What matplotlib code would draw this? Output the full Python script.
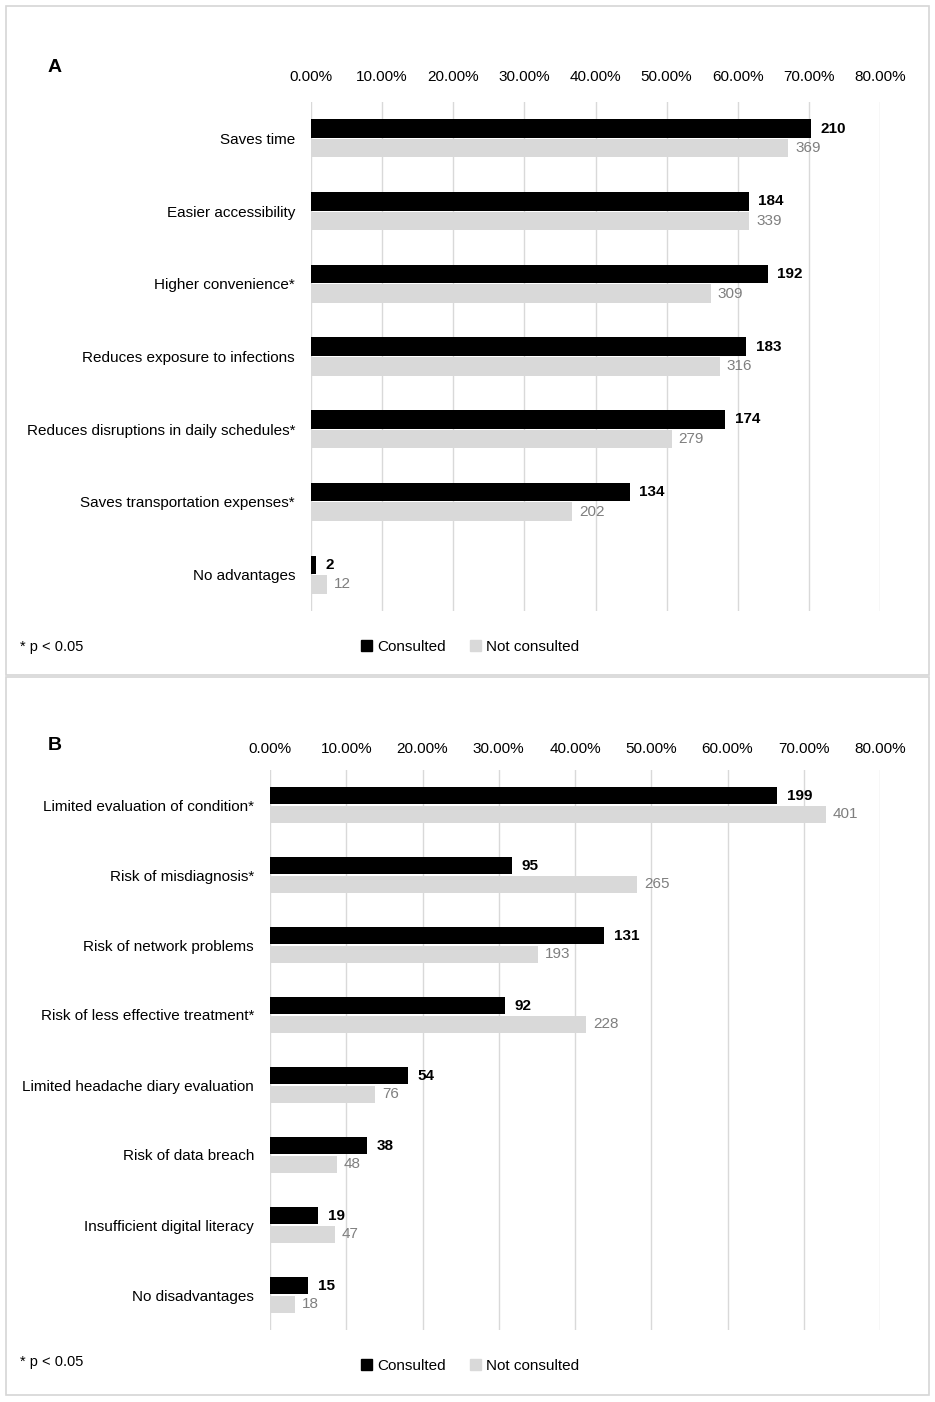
import matplotlib
matplotlib.use("Agg")
import matplotlib.pyplot as plt
from matplotlib.patches import Rectangle, Patch
from matplotlib.ticker import PercentFormatter
from matplotlib import font_manager

# ---------------- data ----------------
adv_categories = ["Saves time", "Easier accessibility", "Higher convenience*",
                  "Reduces exposure to infections", "Reduces disruptions in daily schedules*",
                  "Saves transportation expenses*", "No advantages"]
adv_consulted = [210, 184, 192, 183, 174, 134, 2]
adv_not_consulted = [369, 339, 309, 316, 279, 202, 12]

dis_categories = ["Limited evaluation of condition*", "Risk of misdiagnosis*",
                  "Risk of network problems", "Risk of less effective treatment*",
                  "Limited headache diary evaluation", "Risk of data breach",
                  "Insufficient digital literacy", "No disadvantages"]
dis_consulted = [199, 95, 131, 92, 54, 38, 19, 15]
dis_not_consulted = [401, 265, 193, 228, 76, 48, 47, 18]

n_consulted = 299       # group sizes (denominators for percentages)
n_not_consulted = 550

x_ticks = [0, 10, 20, 30, 40, 50, 60, 70, 80]
series_names = ["Consulted", "Not consulted"]
note_text = "* p < 0.05"

# ---------------- style ----------------
avail = {f.name for f in font_manager.fontManager.ttflist}
family = "Liberation Sans Narrow" if "Liberation Sans Narrow" in avail else "Liberation Sans"
plt.rcParams["font.family"] = [family, "DejaVu Sans"]

BLACK = "#000000"
GRAY = "#d9d9d9"
GRAY_TXT = "#7f7f7f"
GRID = "#d9d9d9"
FS = 11

W, H = 935, 1402
fig = plt.figure(figsize=(W / 100, H / 100), dpi=100)


def fx(px):
    return px / W


def fy(py):
    return 1 - py / H


def panel(rect_px, cats, cons, notc, letter, letter_xy, note_y, leg_y, tickpad):
    l, t, r, b = rect_px
    ax = fig.add_axes([fx(l), fy(b), fx(r) - fx(l), fy(t) - fy(b)])
    n = len(cats)
    ys = list(range(n))
    pc = [100 * v / n_consulted for v in cons]
    pn = [100 * v / n_not_consulted for v in notc]
    h = 0.255
    off = 0.135
    b1 = ax.barh([y - off for y in ys], pc, height=h, color=BLACK, zorder=3)
    b2 = ax.barh([y + off for y in ys], pn, height=h, color=GRAY, zorder=3)
    ax.set_xlim(0, 80)
    ax.set_ylim(n - 0.5, -0.5)
    ax.set_yticks(ys)
    ax.set_yticklabels(cats, fontsize=FS)
    ax.tick_params(axis="y", length=0, pad=11.5)
    ax.set_xticks(x_ticks)
    ax.xaxis.set_major_formatter(PercentFormatter(decimals=2))
    ax.xaxis.tick_top()
    ax.tick_params(axis="x", length=0, pad=tickpad, labelsize=FS)
    ax.grid(axis="x", color=GRID, lw=1, zorder=0)
    for s in ax.spines.values():
        s.set_visible(False)
    for rect, v in zip(b1, cons):
        ax.annotate(str(v), (rect.get_width(), rect.get_y() + rect.get_height() / 2),
                    xytext=(7, 0), textcoords="offset points", va="center", ha="left",
                    fontsize=FS, fontweight="bold", color=BLACK)
    for rect, v in zip(b2, notc):
        ax.annotate(str(v), (rect.get_width(), rect.get_y() + rect.get_height() / 2),
                    xytext=(5, 0), textcoords="offset points", va="center", ha="left",
                    fontsize=FS, color=GRAY_TXT)
    fig.text(fx(letter_xy[0]), fy(letter_xy[1]), letter, fontsize=14, fontweight="bold",
             ha="left", va="center")
    fig.text(fx(20), fy(note_y), note_text, fontsize=FS - 0.5, ha="left", va="center")
    handles = [Patch(color=BLACK), Patch(color=GRAY)]
    fig.legend(handles, series_names, loc="center", bbox_to_anchor=(fx(470), fy(leg_y)),
               ncol=2, frameon=False, fontsize=FS, handlelength=0.7, handleheight=0.7,
               handletextpad=0.35, columnspacing=1.6)
    return ax


panel((311, 102, 880, 611), adv_categories, adv_consulted, adv_not_consulted,
      "A", (48, 68), 647, 647, 13)
panel((270, 770, 880, 1330), dis_categories, dis_consulted, dis_not_consulted,
      "B", (48, 745), 1362, 1366, 10)

# panel frames
for (x0, y0, x1, y1) in [(6, 6, 929, 675), (6, 677, 929, 1395)]:
    fig.patches.append(Rectangle((fx(x0), fy(y1)), fx(x1) - fx(x0), fy(y0) - fy(y1),
                                 transform=fig.transFigure, fill=False,
                                 edgecolor="#d6d6d6", lw=1.2))

fig.savefig("out.png", dpi=100, facecolor="white")
